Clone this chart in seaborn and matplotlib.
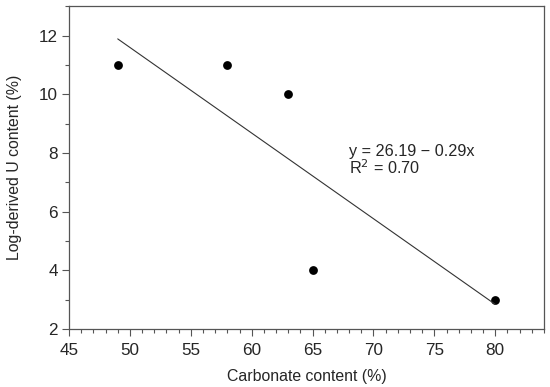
import matplotlib
matplotlib.use("Agg")
import matplotlib.pyplot as plt
from matplotlib.ticker import MultipleLocator
import seaborn as sns
import pandas as pd

# carbonate vs log-derived U content
carbonate = [49, 58, 63, 65, 80]
u_content = [11, 11, 10, 4, 3]

df = pd.DataFrame({"carbonate": carbonate, "u": u_content})

sns.set_style("ticks")
plt.rcParams['font.family'] = ['Liberation Sans', 'DejaVu Sans']

fig, ax = plt.subplots(figsize=(5.5, 3.87), dpi=100)
fig.subplots_adjust(left=0.1255, right=0.989, top=0.984, bottom=0.15)

sns.regplot(data=df, x="carbonate", y="u", ci=None, truncate=True, ax=ax,
            scatter_kws={'s': 40, 'color': 'black', 'linewidths': 0, 'alpha': 1},
            line_kws={'color': '#333333', 'linewidth': 0.8})

ax.text(68.0, 8.05, "y = 26.19 \u2212 0.29x", fontsize=11.7, va='center')
ax.text(68.0, 7.5, "R$^2$ = 0.70", fontsize=11.7, va='center')

ax.set_xlim(45, 84)
ax.set_ylim(2, 13)
ax.xaxis.set_major_locator(MultipleLocator(5))
ax.xaxis.set_minor_locator(MultipleLocator(1))
ax.yaxis.set_major_locator(MultipleLocator(2))
ax.yaxis.set_minor_locator(MultipleLocator(1))
ax.set_xticks(range(45, 81, 5))

for s in ax.spines.values():
    s.set_color('#555555')
    s.set_linewidth(0.9)
ax.tick_params(which='major', length=5, width=0.8, color='#555555', labelsize=12.3, pad=3)
ax.tick_params(axis='x', which='major', pad=5)
ax.tick_params(which='minor', length=3, width=0.8, color='#555555')

ax.set_xlabel('Carbonate content (%)', fontsize=11.4, labelpad=8)
ax.set_ylabel('Log-derived U content (%)', fontsize=11.4, labelpad=12)

plt.savefig("out.png", dpi=100)
